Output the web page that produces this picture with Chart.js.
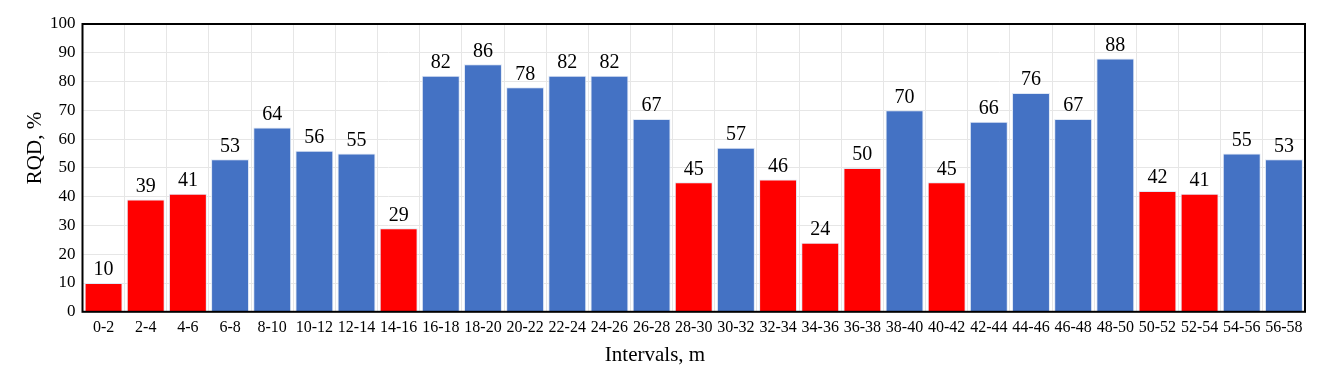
<!DOCTYPE html>
<html>
<head>
<meta charset="utf-8">
<script src="https://cdn.jsdelivr.net/npm/chart.js@4.4.0/dist/chart.umd.min.js"></script>
<style>
  html, body { margin: 0; padding: 0; background: #fff; }
  #wrap { width: 1323px; height: 372px; }
</style>
</head>
<body>
<div id="wrap"><canvas id="myChart"></canvas></div>
<script>
const intervals = ['0-2', '2-4', '4-6', '6-8', '8-10', '10-12', '12-14', '14-16', '16-18', '18-20',
    '20-22', '22-24', '24-26', '26-28', '28-30', '30-32', '32-34', '34-36', '36-38', '38-40',
    '40-42', '42-44', '44-46', '46-48', '48-50', '50-52', '52-54', '54-56', '56-58'];
const rqd = [10, 39, 41, 53, 64, 56, 55, 29, 82, 86,
    78, 82, 82, 67, 45, 57, 46, 24, 50, 70,
    45, 66, 76, 67, 88, 42, 41, 55, 53];
const lowLimit = 50;
const xTitle = 'Intervals, m';
const yTitle = 'RQD, %';

const barColors = rqd.map(function (v) { return v <= lowLimit ? '#ff0000' : '#4472c4'; });

const serif = "'Liberation Serif', 'Times New Roman', serif";

// value labels above each bar
const valueLabels = {
    id: 'valueLabels',
    afterDatasetsDraw(chart) {
        const c = chart.ctx;
        const meta = chart.getDatasetMeta(0);
        c.save();
        c.fillStyle = '#000';
        c.font = '20px ' + serif;
        c.textAlign = 'center';
        c.textBaseline = 'bottom';
        meta.data.forEach(function (bar, i) {
            c.fillText(rqd[i], bar.x, bar.y - 3);
        });
        c.restore();
    }
};

// frame round the plot area plus the two axis titles (they sit off-centre in the original)
const frame = {
    id: 'frame',
    afterDraw(chart) {
        const a = chart.chartArea;
        const c = chart.ctx;
        c.save();
        c.strokeStyle = '#000';
        c.lineWidth = 2;
        c.strokeRect(a.left, a.top, a.right - a.left, a.bottom - a.top);

        c.fillStyle = '#000';
        c.font = '21px ' + serif;
        c.textAlign = 'center';
        c.textBaseline = 'middle';
        c.fillText(xTitle, 655, 355);

        c.translate(35, 148);
        c.rotate(-Math.PI / 2);
        c.fillText(yTitle, 0, 0);
        c.restore();
    }
};

const ctx = document.getElementById('myChart');

new Chart(ctx, {
    type: 'bar',
    data: {
        labels: intervals,
        datasets: [{
            label: 'RQD',
            data: rqd,
            backgroundColor: barColors,
            borderColor: '#dfe8f5',
            borderWidth: 1,
            barPercentage: 0.9,
            categoryPercentage: 1
        }]
    },
    options: {
        responsive: true,
        maintainAspectRatio: false,
        animation: false,
        layout: { padding: { top: 24, right: 18, bottom: 29, left: 43 } },
        scales: {
            x: {
                grid: { color: '#e6e6e6', lineWidth: 1, offset: true, drawTicks: false },
                border: { display: false },
                ticks: { color: '#000', font: { family: serif, size: 16 }, maxRotation: 0, autoSkip: false, padding: 6 }
            },
            y: {
                min: 0,
                max: 100,
                grid: { color: '#e6e6e6', lineWidth: 1, drawTicks: false },
                border: { display: false },
                ticks: { stepSize: 10, color: '#000', font: { family: serif, size: 17 }, padding: 7 }
            }
        },
        plugins: {
            legend: { display: false },
            tooltip: { enabled: false }
        }
    },
    plugins: [valueLabels, frame]
});
</script>
</body>
</html>
